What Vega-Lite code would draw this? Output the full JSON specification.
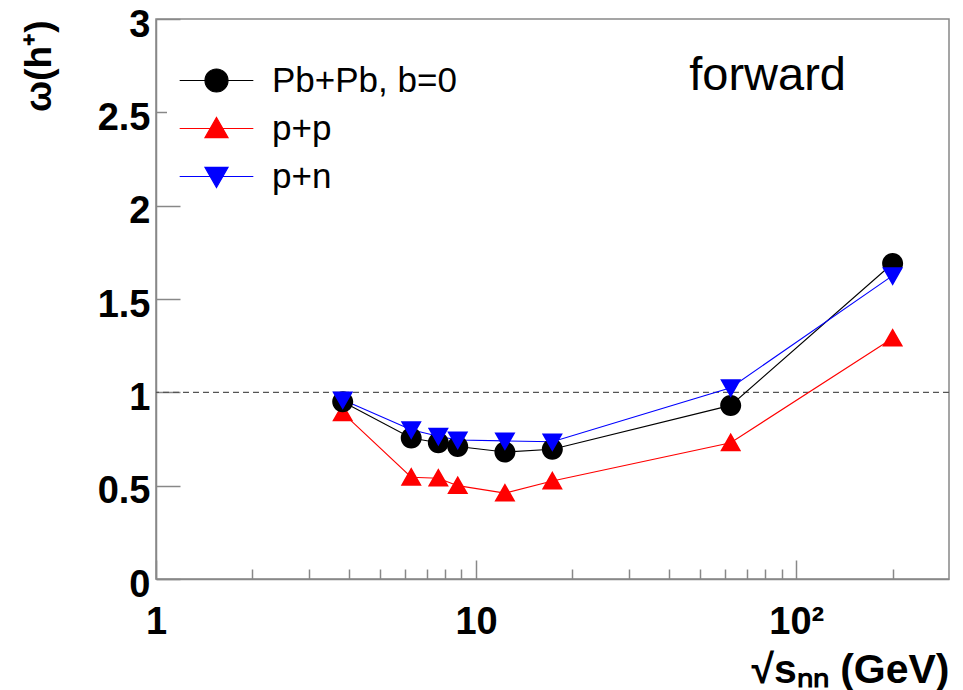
{
  "$schema": "https://vega.github.io/schema/vega-lite/v6.json",
  "width": 793,
  "height": 560,
  "autosize": {"type": "none"},
  "padding": {"left": 156, "top": 19, "right": 14, "bottom": 111},
  "background": "white",
  "config": {
    "font": "Liberation Sans",
    "view": {"stroke": "#888888", "strokeWidth": 1.5}
  },
  "data": {
    "values": [
      {"s": "p+p", "e": 3.83, "w": 0.89},
      {"s": "p+p", "e": 6.27, "w": 0.545},
      {"s": "p+p", "e": 7.62, "w": 0.54},
      {"s": "p+p", "e": 8.76, "w": 0.5},
      {"s": "p+p", "e": 12.3, "w": 0.46},
      {"s": "p+p", "e": 17.3, "w": 0.525},
      {"s": "p+p", "e": 62.4, "w": 0.73},
      {"s": "p+p", "e": 200, "w": 1.29},
      {"s": "Pb+Pb, b=0", "e": 3.83, "w": 0.95},
      {"s": "Pb+Pb, b=0", "e": 6.27, "w": 0.755},
      {"s": "Pb+Pb, b=0", "e": 7.62, "w": 0.73},
      {"s": "Pb+Pb, b=0", "e": 8.76, "w": 0.71},
      {"s": "Pb+Pb, b=0", "e": 12.3, "w": 0.68},
      {"s": "Pb+Pb, b=0", "e": 17.3, "w": 0.695},
      {"s": "Pb+Pb, b=0", "e": 62.4, "w": 0.93},
      {"s": "Pb+Pb, b=0", "e": 200, "w": 1.69},
      {"s": "p+n", "e": 3.83, "w": 0.96},
      {"s": "p+n", "e": 6.27, "w": 0.8},
      {"s": "p+n", "e": 7.62, "w": 0.765},
      {"s": "p+n", "e": 8.76, "w": 0.745},
      {"s": "p+n", "e": 12.3, "w": 0.74},
      {"s": "p+n", "e": 17.3, "w": 0.735},
      {"s": "p+n", "e": 62.4, "w": 1.025},
      {"s": "p+n", "e": 200, "w": 1.625}
    ]
  },
  "resolve": {"axis": {"x": "independent"}},
  "layer": [
    {
      "data": {"values": [{}]},
      "mark": {"type": "rule", "strokeDash": [6, 4], "color": "#555555", "strokeWidth": 1.2},
      "encoding": {
        "y": {
          "datum": 1, "type": "quantitative", "scale": {"domain": [0, 3], "nice": false},
          "axis": {
            "values": [0, 0.5, 1, 1.5, 2, 2.5, 3], "format": "~g",
            "tickSize": -24, "tickColor": "#888888", "tickWidth": 1.5,
            "domainColor": "#888888", "domainWidth": 1.5,
            "labelPadding": 30, "labelOffset": 6, "labelFontSize": 38, "labelFontWeight": "bold", "labelColor": "black",
            "labelFlush": false, "labelOverlap": false, "labelBound": false, "grid": false,
            "title": "ω(h⁺)", "titleFontSize": 37, "titleFontWeight": "bold", "titleColor": "black",
            "titleAngle": -90, "titleAnchor": "end", "titleAlign": "right", "titleBaseline": "middle",
            "titleX": -117, "titleY": 1
          }
        }
      }
    },
    {
      "mark": {"type": "line", "strokeWidth": 1.1},
      "encoding": {
        "x": {
          "field": "e", "type": "quantitative",
          "scale": {"type": "log", "domain": [1, 300], "nice": false},
          "axis": {
            "orient": "bottom",
            "values": [1, 10, 100],
            "labelExpr": "datum.value == 100 ? '10²' : datum.label",
            "tickSize": -19, "tickColor": "#888888", "tickWidth": 1.5,
            "domainColor": "#888888", "domainWidth": 1.5,
            "labelPadding": 43, "labelFontSize": 38, "labelFontWeight": "bold", "labelColor": "black",
            "labelFlush": false, "labelOverlap": false, "labelBound": false,
            "grid": false,
            "title": "√sₙₙ (GeV)",
            "titleFontSize": 41, "titleFontWeight": "bold", "titleColor": "black",
            "titleAnchor": "end", "titleAlign": "right", "titleBaseline": "alphabetic",
            "titleX": 793, "titleY": 103
          }
        },
        "y": {
          "field": "w", "type": "quantitative",
          "axis": {
            "values": [0, 0.5, 1, 1.5, 2, 2.5, 3], "format": "~g",
            "tickSize": -24, "tickColor": "#888888", "tickWidth": 1.5,
            "domainColor": "#888888", "domainWidth": 1.5,
            "labelPadding": 30, "labelOffset": 6, "labelFontSize": 38, "labelFontWeight": "bold", "labelColor": "black",
            "labelFlush": false, "labelOverlap": false, "labelBound": false, "grid": false,
            "title": "ω(h⁺)", "titleFontSize": 37, "titleFontWeight": "bold", "titleColor": "black",
            "titleAngle": -90, "titleAnchor": "end", "titleAlign": "right", "titleBaseline": "middle",
            "titleX": -117, "titleY": 1
          }
        },
        "stroke": {
          "field": "s", "type": "nominal",
          "scale": {"domain": ["Pb+Pb, b=0", "p+p", "p+n"], "range": ["#000000", "#ff0000", "#0000ff"]}
        },
        "detail": {"field": "s"}
      }
    },
    {
      "mark": {"type": "point", "filled": true, "opacity": 1, "strokeWidth": 0, "size": 441},
      "encoding": {
        "x": {"field": "e", "type": "quantitative", "axis": null},
        "y": {
          "field": "w", "type": "quantitative",
          "axis": {
            "values": [0, 0.5, 1, 1.5, 2, 2.5, 3], "format": "~g",
            "tickSize": -24, "tickColor": "#888888", "tickWidth": 1.5,
            "domainColor": "#888888", "domainWidth": 1.5,
            "labelPadding": 30, "labelOffset": 6, "labelFontSize": 38, "labelFontWeight": "bold", "labelColor": "black",
            "labelFlush": false, "labelOverlap": false, "labelBound": false, "grid": false,
            "title": "ω(h⁺)", "titleFontSize": 37, "titleFontWeight": "bold", "titleColor": "black",
            "titleAngle": -90, "titleAnchor": "end", "titleAlign": "right", "titleBaseline": "middle",
            "titleX": -117, "titleY": 1
          }
        },
        "fill": {
          "field": "s", "type": "nominal",
          "scale": {"domain": ["Pb+Pb, b=0", "p+p", "p+n"], "range": ["#000000", "#ff0000", "#0000ff"]}
        },
        "stroke": {"field": "s", "type": "nominal"},
        "shape": {
          "field": "s", "type": "nominal",
          "scale": {
            "domain": ["Pb+Pb, b=0", "p+p", "p+n"],
            "range": [
              "M-3.2,0H3.2M0,-1A1,1,0,1,1,0,1A1,1,0,1,1,0,-1Z",
              "M-3.2,0H3.2M0,-0.95L1,0.8L-1,0.8Z",
              "M-3.2,0H3.2M0,0.95L1,-0.8L-1,-0.8Z"
            ]
          },
          "legend": {
            "orient": "none", "legendX": 11, "legendY": 36,
            "title": null,
            "fillColor": "white", "padding": 8,
            "symbolSize": 530, "symbolOffset": 24, "symbolStrokeWidth": 1.2,
            "labelFontSize": 35, "labelFont": "Liberation Sans", "labelColor": "black",
            "labelOffset": 38, "rowPadding": 12, "labelLimit": 400
          }
        }
      }
    },
    {
      "data": {"values": [{}]},
      "mark": {"type": "text", "text": "forward", "fontSize": 47, "align": "left", "baseline": "alphabetic", "color": "black"},
      "encoding": {
        "x": {
          "datum": 46.3, "type": "quantitative",
          "axis": {
            "orient": "bottom",
            "values": [2, 3, 4, 5, 6, 7, 8, 9, 20, 30, 40, 50, 60, 70, 80, 90, 200],
            "labels": false, "domain": false, "grid": false,
            "tickSize": -10, "tickColor": "#888888", "tickWidth": 1.5,
            "title": null
          }
        },
        "y": {
          "datum": 2.62, "type": "quantitative",
          "axis": {
            "values": [0, 0.5, 1, 1.5, 2, 2.5, 3], "format": "~g",
            "tickSize": -24, "tickColor": "#888888", "tickWidth": 1.5,
            "domainColor": "#888888", "domainWidth": 1.5,
            "labelPadding": 30, "labelOffset": 6, "labelFontSize": 38, "labelFontWeight": "bold", "labelColor": "black",
            "labelFlush": false, "labelOverlap": false, "labelBound": false, "grid": false,
            "title": "ω(h⁺)", "titleFontSize": 37, "titleFontWeight": "bold", "titleColor": "black",
            "titleAngle": -90, "titleAnchor": "end", "titleAlign": "right", "titleBaseline": "middle",
            "titleX": -117, "titleY": 1
          }
        }
      }
    }
  ]
}
